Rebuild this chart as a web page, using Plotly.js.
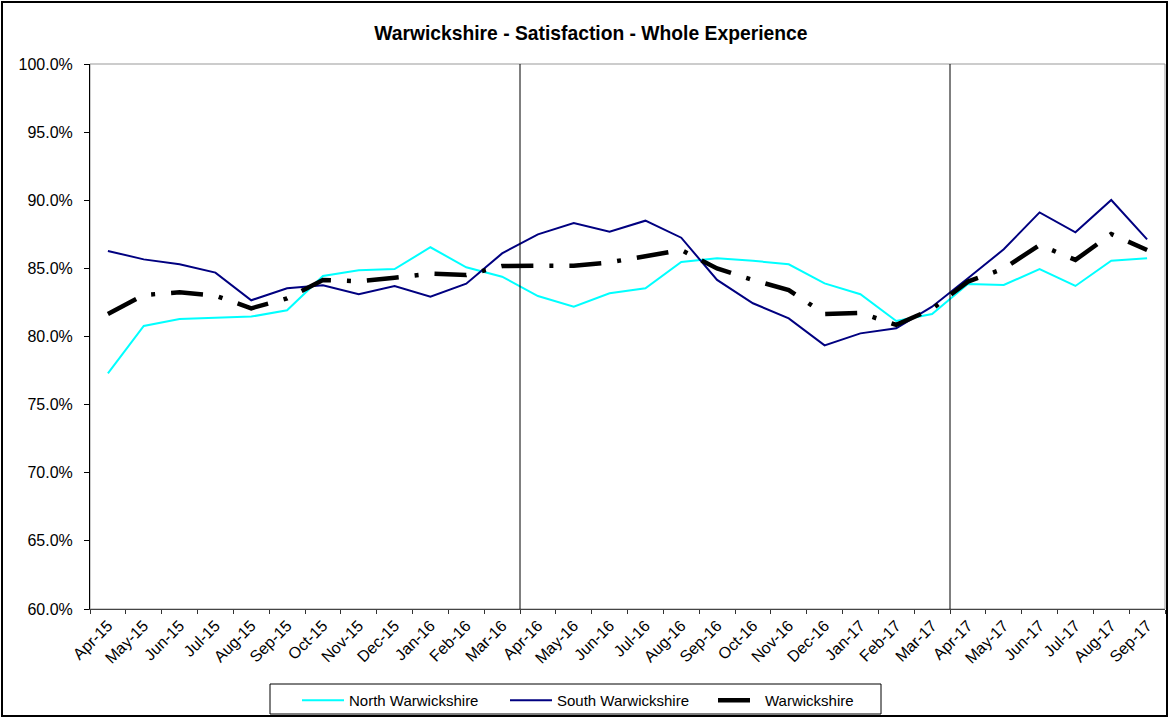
<!DOCTYPE html>
<html>
<head>
<meta charset="utf-8">
<script src="https://cdn.plot.ly/plotly-3.0.1.min.js"></script>
<style>
  html, body { margin: 0; padding: 0; background: #fff; }
  #wrap { position: relative; width: 1170px; height: 717px; }
  #chart { width: 1170px; height: 717px; }
  #frame { position: absolute; left: 1px; top: 1px; width: 1163px; height: 712px; border: 2px solid #000; pointer-events: none; }
</style>
</head>
<body>
<div id="wrap"><div id="chart"></div><div id="frame"></div></div>
<script>
const months = ["Apr-15","May-15","Jun-15","Jul-15","Aug-15","Sep-15","Oct-15","Nov-15","Dec-15","Jan-16","Feb-16","Mar-16",
                "Apr-16","May-16","Jun-16","Jul-16","Aug-16","Sep-16","Oct-16","Nov-16","Dec-16","Jan-17","Feb-17","Mar-17",
                "Apr-17","May-17","Jun-17","Jul-17","Aug-17","Sep-17"];
const northWarwickshire = [77.30,80.77,81.29,81.38,81.46,81.92,84.44,84.86,84.95,86.55,85.08,84.39,
                           82.97,82.19,83.17,83.54,85.47,85.74,85.56,85.30,83.90,83.10,81.14,81.65,
                           83.85,83.78,84.95,83.71,85.56,85.74];
const southWarwickshire = [86.28,85.66,85.30,84.69,82.66,83.54,83.76,83.10,83.71,82.92,83.88,86.10,
                           87.50,88.33,87.69,88.50,87.25,84.15,82.44,81.33,79.35,80.23,80.60,82.19,
                           84.27,86.40,89.11,87.65,90.02,87.13];
const warwickshire = [81.65,83.05,83.24,83.00,82.07,82.80,84.15,84.05,84.32,84.61,84.51,85.17,
                      85.20,85.20,85.44,85.91,86.35,85.00,84.15,83.41,81.65,81.73,80.85,82.02,
                      84.03,84.98,86.72,85.62,87.52,86.35];
const yearStarts = ["Apr-16","Apr-17"];
const seriesNames = ["North Warwickshire","South Warwickshire","Warwickshire"];
const chartTitle = "Warwickshire - Satisfaction - Whole Experience";

const FONT = "Liberation Sans, Arial, sans-serif";
const W = 1170, H = 717;
const M = {l: 90, r: 5, t: 64, b: 108};
const PW = W - M.l - M.r, PH = H - M.t - M.b;
// legend frame (pixels in the figure)
const LB = {x0: 270, x1: 881, y0: 684, y1: 714};

const traces = [
  {x: months, y: northWarwickshire, name: seriesNames[0], type: "scatter", mode: "lines",
   line: {color: "#00FFFF", width: 2}},
  {x: months, y: southWarwickshire, name: seriesNames[1], type: "scatter", mode: "lines",
   line: {color: "#000080", width: 2}},
  {x: months, y: warwickshire, name: seriesNames[2], type: "scatter", mode: "lines",
   line: {color: "#000000", width: 4.5, dash: "32px,16px,4px,16px"}}
];

const shapes = [
  {type: "rect", xref: "paper", yref: "paper", x0: 0, x1: 1, y0: 0, y1: 1,
   line: {color: "#999999", width: 1}, layer: "below"},
  {type: "rect", xref: "paper", yref: "paper",
   x0: (LB.x0 - M.l) / PW, x1: (LB.x1 - M.l) / PW,
   y0: (H - M.b - LB.y0) / PH, y1: (H - M.b - LB.y1) / PH,
   line: {color: "#000", width: 1}, fillcolor: "rgba(0,0,0,0)"}
];
yearStarts.forEach(m => {
  const xi = months.indexOf(m) - 0.5;
  shapes.push({type: "line", xref: "x", yref: "paper", x0: xi, x1: xi, y0: 0, y1: 1,
               line: {color: "#000000", width: 1}});
});

const layout = {
  width: W, height: H,
  margin: M,
  paper_bgcolor: "#ffffff", plot_bgcolor: "#ffffff",
  font: {family: FONT, size: 15, color: "#000"},
  title: {text: "<b>" + chartTitle + "</b>", font: {family: FONT, size: 19.3, color: "#000"},
          xref: "container", x: 0.505, xanchor: "center", yref: "container", y: 0.954, yanchor: "middle"},
  xaxis: {type: "category", range: [-0.5, months.length - 0.5], tickson: "boundaries",
          ticks: "outside", ticklen: 4, tickcolor: "#333", tickangle: -45, automargin: false,
          showline: true, linecolor: "#444", linewidth: 1, showgrid: false, zeroline: false,
          tickfont: {family: FONT, size: 16, color: "#000"}},
  yaxis: {range: [60, 100], dtick: 5, tick0: 60, tickformat: ".1f", ticksuffix: "%",
          ticks: "outside", ticklen: 5, tickcolor: "#000", automargin: false, ticklabelstandoff: 8,
          showline: true, linecolor: "#000", linewidth: 1, showgrid: false, zeroline: false,
          tickfont: {family: FONT, size: 16, color: "#000"}},
  showlegend: true,
  legend: {orientation: "h", xref: "container", yref: "container",
           x: 297 / W, xanchor: "left", y: 1 - 684 / H, yanchor: "top",
           borderwidth: 0, bgcolor: "rgba(0,0,0,0)",
           itemwidth: 42, entrywidth: 151, entrywidthmode: "pixels",
           font: {family: FONT, size: 15, color: "#000"}},
  shapes: shapes
};

Plotly.newPlot("chart", traces, layout, {displayModeBar: false, staticPlot: true});
</script>
</body>
</html>
